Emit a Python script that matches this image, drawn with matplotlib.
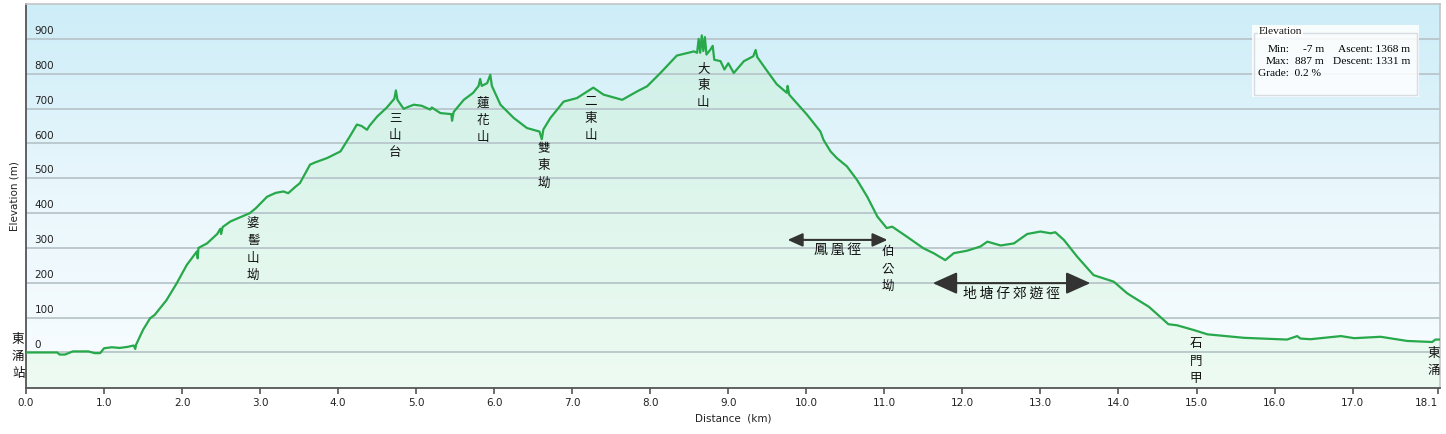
import matplotlib
matplotlib.use("Agg")
import matplotlib.pyplot as plt
import numpy as np
from matplotlib.patches import Rectangle
from matplotlib.colors import LinearSegmentedColormap
import matplotlib.transforms as mtransforms

# elevation profile (km, m)
dist_km = [0.00, 0.40, 0.43, 0.50, 0.60, 0.80, 0.88, 0.95, 1.00, 1.10, 1.20, 1.30,
           1.38, 1.40, 1.41, 1.50, 1.59, 1.65, 1.80, 1.93, 2.06, 2.19, 2.20, 2.21,
           2.32, 2.45, 2.49, 2.50, 2.52, 2.62, 2.87, 2.95, 3.09, 3.20, 3.30, 3.36,
           3.45, 3.51, 3.64, 3.70, 3.86, 4.03, 4.15, 4.24, 4.30, 4.37, 4.40, 4.50,
           4.62, 4.72, 4.74, 4.76, 4.84, 4.90, 4.97, 5.07, 5.18, 5.20, 5.31, 5.45,
           5.46, 5.48, 5.61, 5.73, 5.80, 5.82, 5.84, 5.91, 5.95, 5.97, 6.08, 6.25,
           6.42, 6.58, 6.61, 6.63, 6.72, 6.89, 7.06, 7.23, 7.27, 7.40, 7.64, 7.83,
           7.96, 8.13, 8.34, 8.56, 8.60, 8.62, 8.64, 8.66, 8.68, 8.70, 8.72, 8.77,
           8.80, 8.82, 8.90, 8.95, 9.00, 9.07, 9.20, 9.32, 9.35, 9.37, 9.50, 9.62,
           9.75, 9.76, 9.78, 10.01, 10.18, 10.22, 10.31, 10.39, 10.52, 10.65, 10.78,
           10.91, 11.03, 11.10, 11.29, 11.50, 11.63, 11.78, 11.89, 12.06, 12.23,
           12.32, 12.49, 12.66, 12.83, 13.00, 13.13, 13.19, 13.30, 13.47, 13.68,
           13.94, 14.11, 14.18, 14.39, 14.64, 14.75, 14.97, 15.14, 15.61, 16.16,
           16.29, 16.33, 16.46, 16.85, 17.02, 17.36, 17.70, 18.02, 18.06, 18.12]
elev_m = [0, 0, -6, -6, 3, 3, -2, -2, 12, 15, 13, 16,
          20, 10, 22, 65, 98, 108, 150, 198, 251, 290, 270, 300,
          313, 340, 355, 340, 360, 376, 400, 415, 447, 458, 462, 457,
          475, 486, 539, 545, 558, 577, 620, 654, 650, 639, 650, 677,
          702, 728, 752, 725, 699, 705, 711, 708, 697, 703, 687, 684,
          665, 690, 725, 745, 765, 785, 765, 773, 797, 765, 711, 673,
          644, 634, 612, 640, 673, 720, 730, 754, 760, 740, 725, 749,
          764, 802, 852, 864, 860, 900, 860, 910, 865, 905, 855, 869,
          880, 840, 836, 812, 830, 802, 836, 850, 868, 848, 807, 770,
          745, 765, 740, 682, 634, 610, 577, 558, 534, 495, 447,
          390, 357, 361, 332, 299, 285, 265, 285, 292, 304,
          318, 307, 313, 340, 347, 342, 345, 323, 275, 222,
          203, 170, 160, 131, 81, 78, 64, 52, 42, 37,
          47, 40, 38, 47, 41, 45, 33, 30, 37, 37]

# place names: (km, elevation at top of first char, name)
place_x = [-0.10, 2.91, 4.73, 5.86, 6.63, 7.24, 8.68, 11.04, 14.99, 18.04]
place_y = [57, 388, 690, 733, 604, 739, 834, 308, 43, 17]
place_names = ["東涌站", "婆髻山坳", "三山台", "蓮花山", "雙東坳", "二東山", "大東山",
               "伯公坳", "石門甲", "東涌"]

# trail sections: start km, end km, arrow elevation, label elevation
trail_names = ["鳳凰徑", "地塘仔郊遊徑"]
trail_start = [9.76, 11.62]
trail_end = [11.04, 13.64]
trail_arrow_y = [323, 199]
trail_label_y = [294, 170]

grid_values = [0, 100, 200, 300, 400, 500, 600, 700, 800, 900]
x_ticks = list(range(0, 18)) + [18.1]

XMAX = 18.12
YMIN, YMAX = -102, 1000

W, H = 1446, 434
fig = plt.figure(figsize=(W / 100, H / 100), dpi=100)
ax = fig.add_axes([26 / W, 46 / H, 1414 / W, 384 / H])
ax.set_xlim(0, XMAX)
ax.set_ylim(YMIN, YMAX)

# background gradient (light blue at top to almost white at bottom)
bg = LinearSegmentedColormap.from_list("bg", ["#f9fdff", "#eaf7fc", "#cdedf8"])
grad = np.linspace(0, 1, 256).reshape(-1, 1)
ax.imshow(grad, cmap=bg, aspect="auto", origin="lower",
          extent=[0, XMAX, YMIN, YMAX], zorder=0)

# green fill under the profile
fill = ax.fill_between(dist_km, elev_m, YMIN, color="none", zorder=1)
gr = LinearSegmentedColormap.from_list("gr", ["#eefbf2", "#dff6ec", "#cdefe6"])
im = ax.imshow(grad, cmap=gr, aspect="auto", origin="lower",
               extent=[0, XMAX, YMIN, 920], zorder=1)
im.set_clip_path(fill.get_paths()[0], transform=ax.transData)

# grid lines and y labels inside the plot
ytrans = mtransforms.blended_transform_factory(ax.transAxes, ax.transData)
for v in grid_values:
    ax.axhline(v, color="#b8c6cb", lw=1.3, zorder=2)
    ax.text(0.006, v + 8, str(v), transform=ytrans,
            fontsize=7.5, color="#222222", ha="left", va="bottom", zorder=3)

ax.plot(dist_km, elev_m, color="#27a84a", lw=1.6, zorder=4, solid_joinstyle="round")

ax.set_yticks([])
ax.set_xticks(x_ticks)
ax.set_xticklabels([f"{t:.1f}" for t in x_ticks], fontsize=7.5, color="#222222")
ax.get_xticklabels()[-1].set_horizontalalignment("right")
ax.tick_params(axis="x", length=4, width=1.2, color="#555555", pad=3)
ax.set_xlabel("Distance  (km)", fontsize=7.5, color="#222222", labelpad=4)
ax.set_ylabel("Elevation (m)", fontsize=7.5, color="#222222", labelpad=5)

for side in ("left", "bottom"):
    ax.spines[side].set_color("#555555")
    ax.spines[side].set_linewidth(1.3)
for side in ("top", "right"):
    ax.spines[side].set_color("#c4c4c4")
    ax.spines[side].set_linewidth(1.2)

cjk = ["Noto Sans CJK TC", "DejaVu Sans"]
for x, y, name in zip(place_x, place_y, place_names):
    ax.text(x, y, "\n".join(name), family=cjk, fontsize=9, color="#111111",
            ha="center", va="top", linespacing=1.42, zorder=5, clip_on=False)

head = [dict(mutation_scale=9), dict(mutation_scale=15)]
for name, x0, x1, ya, yl, h in zip(trail_names, trail_start, trail_end,
                                    trail_arrow_y, trail_label_y, head):
    ax.annotate("", xy=(x1, ya), xytext=(x0, ya),
                arrowprops=dict(arrowstyle="<|-|>,head_length=1.0,head_width=0.45",
                                color="#333333", lw=1.5, shrinkA=0, shrinkB=0, **h),
                zorder=5)
    ax.text((x0 + x1) / 2, yl, "\u2009".join(name), family=cjk, fontsize=10,
            color="#111111", ha="center", va="center", zorder=5)

# stats box top right
fig.patches.append(Rectangle((1252 / W, 1 - 97 / H), 167 / W, 72 / H,
                             transform=fig.transFigure, facecolor="white",
                             alpha=0.85, edgecolor="none", zorder=6))
fig.patches.append(Rectangle((1254 / W, 1 - 95 / H), 163 / W, 62 / H,
                             transform=fig.transFigure, facecolor="none",
                             edgecolor="#d6dde0", lw=1, zorder=7))
serif = "Liberation Serif"
fs = 8.2
fig.text(1259 / W, 1 - 32 / H, "Elevation", family=serif, fontsize=fs, color="#111111",
         va="center", ha="left", zorder=8,
         bbox=dict(facecolor="white", edgecolor="none", pad=0.5))
fig.text(1290 / W, 1 - 49 / H, "Min:", family=serif, fontsize=fs, ha="right", va="center", zorder=8)
fig.text(1324 / W, 1 - 49 / H, "-7 m", family=serif, fontsize=fs, ha="right", va="center", zorder=8)
fig.text(1410 / W, 1 - 49 / H, "Ascent: 1368 m", family=serif, fontsize=fs, ha="right", va="center", zorder=8)
fig.text(1290 / W, 1 - 62 / H, "Max:", family=serif, fontsize=fs, ha="right", va="center", zorder=8)
fig.text(1324 / W, 1 - 62 / H, "887 m", family=serif, fontsize=fs, ha="right", va="center", zorder=8)
fig.text(1410 / W, 1 - 62 / H, "Descent: 1331 m", family=serif, fontsize=fs, ha="right", va="center", zorder=8)
fig.text(1258 / W, 1 - 74 / H, "Grade:  0.2 %", family=serif, fontsize=fs, ha="left", va="center", zorder=8)

fig.savefig("out.png", dpi=100, facecolor="white")
